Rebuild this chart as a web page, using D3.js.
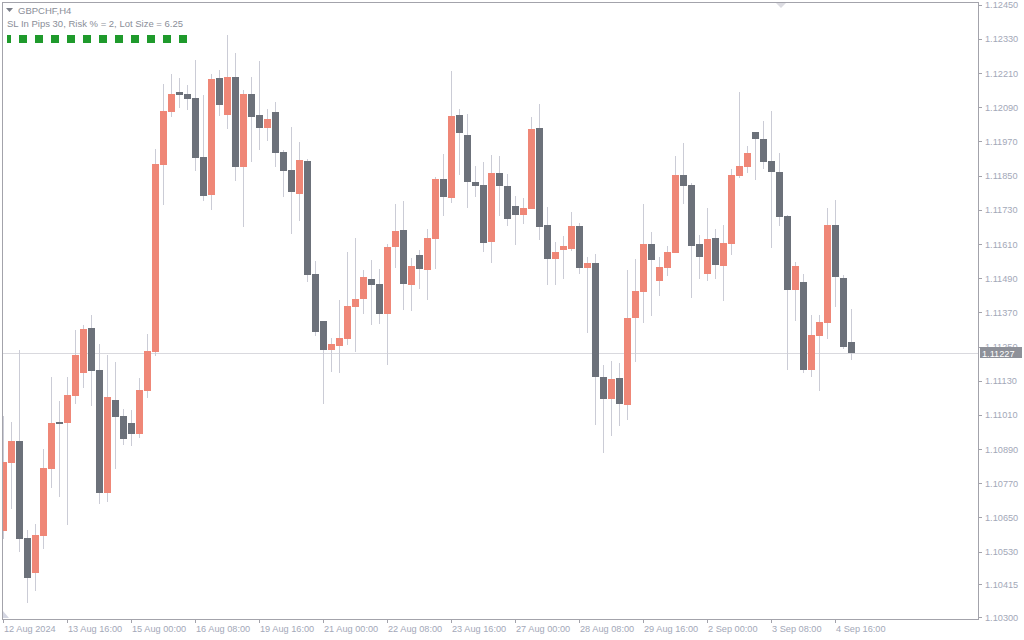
<!DOCTYPE html>
<html>
<head>
<meta charset="utf-8">
<script src="https://cdn.jsdelivr.net/npm/d3@7/dist/d3.min.js"></script>
<style>
  body { margin: 0; background: #ffffff; }
  svg { display: block; }
  text { font-family: "Liberation Sans", Arial, sans-serif; }
</style>
</head>
<body>
<script>
var width = 1024;
var height = 640;

// GBPCHF H4, bars from 12 Aug 2024 08:00
var opens = [1.10604,1.10842,1.10919,1.10578,1.10456,1.10586,1.10821,1.10985,1.10982,1.11077,
  1.11157,1.11315,1.11168,1.10736,1.11063,1.11006,1.10982,1.10943,1.11094,1.11231,
  1.11887,1.12073,1.12144,1.12137,1.12123,1.11915,1.11782,1.12193,1.12063,1.12196,
  1.11880,1.12137,1.12063,1.12017,1.12073,1.11933,1.11870,1.11786,1.11901,1.11505,
  1.11340,1.11238,1.11252,1.11277,1.11389,1.11417,1.11487,1.11470,1.11364,1.11600,
  1.11659,1.11466,1.11571,1.11519,1.11628,1.11838,1.11772,1.12063,1.11993,1.11828,
  1.11817,1.11617,1.11859,1.11814,1.11743,1.11712,1.11733,1.12017,1.11677,1.11557,
  1.11589,1.11593,1.11673,1.11526,1.11543,1.11143,1.11066,1.11140,1.11045,1.11350,
  1.11442,1.11610,1.11480,1.11526,1.11578,1.11852,1.11817,1.11610,1.11505,1.11631,
  1.11533,1.11610,1.11849,1.11880,1.12003,1.11979,1.11901,1.11863,1.11708,1.11449,
  1.11477,1.11168,1.11287,1.11333,1.11677,1.11491,1.11266];
var highs = [1.11006,1.10985,1.11238,1.10606,1.10627,1.10891,1.11143,1.11059,1.11143,1.11308,
  1.11327,1.11361,1.11259,1.11220,1.11196,1.11031,1.11027,1.11140,1.11294,1.11944,
  1.12172,1.12207,1.12193,1.12168,1.12256,1.12133,1.12207,1.12221,1.12344,1.12280,
  1.12151,1.12196,1.12252,1.12084,1.12108,1.11940,1.12021,1.11968,1.11908,1.11550,
  1.11340,1.11280,1.11414,1.11582,1.11631,1.11519,1.11554,1.11522,1.11610,1.11750,
  1.11761,1.11561,1.11589,1.11663,1.11845,1.11926,1.12217,1.12084,1.12066,1.11884,
  1.11898,1.11922,1.11919,1.11856,1.11779,1.11772,1.12056,1.12101,1.11740,1.11617,
  1.11638,1.11722,1.11684,1.11564,1.11575,1.11185,1.11201,1.11192,1.11519,1.11557,
  1.11750,1.11652,1.11564,1.11603,1.11919,1.11965,1.11824,1.11642,1.11736,1.11663,
  1.11677,1.11873,1.12144,1.11954,1.12003,1.12042,1.12077,1.11929,1.11712,1.11547,
  1.11505,1.11361,1.11361,1.11736,1.11765,1.11501,1.11382];
var lows = [1.10575,1.10681,1.10530,1.10351,1.10393,1.10541,1.10755,1.10723,1.10625,1.11048,
  1.11105,1.11041,1.10697,1.10705,1.10821,1.10905,1.10901,1.10929,1.11070,1.11217,
  1.11747,1.12056,1.12087,1.12080,1.11866,1.11761,1.11729,1.12059,1.12014,1.11831,
  1.11670,1.11898,1.11940,1.11972,1.11880,1.11775,1.11645,1.11691,1.11477,1.11287,
  1.11048,1.11161,1.11157,1.11256,1.11231,1.11364,1.11326,1.11329,1.11185,1.11526,
  1.11378,1.11375,1.11452,1.11414,1.11522,1.11708,1.11754,1.11852,1.11736,1.11775,
  1.11582,1.11543,1.11708,1.11673,1.11607,1.11680,1.11733,1.11624,1.11466,1.11466,
  1.11487,1.11586,1.11505,1.11298,1.10975,1.10876,1.10936,1.10971,1.10992,1.11196,
  1.11333,1.11357,1.11428,1.11498,1.11578,1.11750,1.11421,1.11487,1.11480,1.11487,
  1.11410,1.11571,1.11842,1.11859,1.11835,1.11873,1.11596,1.11673,1.11168,1.11340,
  1.11157,1.11143,1.11094,1.11277,1.11389,1.11242,1.11203];
var closes = [1.10845,1.10919,1.10576,1.10439,1.10589,1.10824,1.10982,1.10978,1.11080,1.11220,
  1.11312,1.11164,1.10736,1.11073,1.11003,1.10926,1.10943,1.11098,1.11235,1.11891,
  1.12077,1.12137,1.12133,1.12119,1.11912,1.11779,1.12189,1.12098,1.12196,1.11880,
  1.12137,1.12056,1.12017,1.12049,1.11929,1.11866,1.11793,1.11905,1.11501,1.11301,
  1.11238,1.11259,1.11280,1.11392,1.11417,1.11494,1.11466,1.11364,1.11600,1.11656,
  1.11470,1.11533,1.11522,1.11631,1.11838,1.11775,1.12059,1.12000,1.11828,1.11814,
  1.11614,1.11859,1.11814,1.11698,1.11712,1.11736,1.12014,1.11670,1.11557,1.11582,
  1.11603,1.11673,1.11526,1.11543,1.11143,1.11066,1.11136,1.11048,1.11350,1.11445,
  1.11610,1.11554,1.11529,1.11582,1.11852,1.11814,1.11603,1.11564,1.11628,1.11536,
  1.11614,1.11852,1.11884,1.11929,1.11979,1.11898,1.11863,1.11705,1.11449,1.11533,
  1.11168,1.11291,1.11336,1.11677,1.11494,1.11249,1.11227];

var priceTicks = [1.12450,1.12330,1.12210,1.12090,1.11970,1.11850,1.11730,1.11610,1.11490,
  1.11370,1.11250,1.11130,1.11010,1.10890,1.10770,1.10650,1.10530,1.10415,1.10300];
var timeLabels = ["12 Aug 2024","13 Aug 16:00","15 Aug 00:00","16 Aug 08:00","19 Aug 16:00",
  "21 Aug 00:00","22 Aug 08:00","23 Aug 16:00","27 Aug 00:00","28 Aug 08:00",
  "29 Aug 16:00","2 Sep 00:00","3 Sep 08:00","4 Sep 16:00"];
var timeLabelBars = [0,8,16,24,32,40,48,56,64,72,80,88,96,104];
var lastPrice = 1.11227;
var title = "GBPCHF,H4";
var infoLine = "SL In Pips 30, Risk % = 2, Lot Size = 6.25";
var signalCount = 12;

var bullColor = "#ef8777";
var bearColor = "#6c717a";
var wickColor = "#cbccd6";
var axisColor = "#a3a3ab";
var labelColor = "#a3a8b8";

// plot frame (avoid "top", it is window.top)
var plotL = 2, plotR = 978, plotT = 2, plotB = 619;

var svg = d3.select("body").append("svg")
  .attr("width", width)
  .attr("height", height);

svg.append("rect").attr("width", width).attr("height", height).attr("fill", "#ffffff");

var x = d3.scaleLinear().domain([0, opens.length - 1]).range([3, 3 + 8 * (opens.length - 1)]);
var y = d3.scaleLinear().domain([1.10300, 1.12450]).range([617.2, 4.7]);

svg.append("clipPath").attr("id", "plot")
  .append("rect")
  .attr("x", plotL + 1).attr("y", plotT + 1)
  .attr("width", plotR - plotL - 1).attr("height", plotB - plotT - 1);

var plot = svg.append("g").attr("clip-path", "url(#plot)");

// last price line
plot.append("line")
  .attr("x1", plotL).attr("x2", plotR)
  .attr("y1", Math.round(y(lastPrice)) + 0.5).attr("y2", Math.round(y(lastPrice)) + 0.5)
  .attr("stroke", "#d9d9de");

var bars = d3.range(opens.length);

plot.selectAll("rect.wick")
  .data(bars)
  .enter()
  .append("rect")
  .attr("class", "wick")
  .attr("x", function (i) { return x(i); })
  .attr("width", 1)
  .attr("y", function (i) { return Math.round(y(highs[i])); })
  .attr("height", function (i) { return Math.round(y(lows[i])) - Math.round(y(highs[i])); })
  .attr("fill", wickColor);

plot.selectAll("rect.body")
  .data(bars)
  .enter()
  .append("rect")
  .attr("class", "body")
  .attr("x", function (i) { return x(i) - 3; })
  .attr("width", 7)
  .attr("y", function (i) { return Math.round(y(Math.max(opens[i], closes[i]))); })
  .attr("height", function (i) {
    var h = Math.round(y(Math.min(opens[i], closes[i]))) - Math.round(y(Math.max(opens[i], closes[i])));
    return Math.max(h, 1);
  })
  .attr("fill", function (i) { return closes[i] >= opens[i] ? bullColor : bearColor; });

// frame
svg.append("rect")
  .attr("x", plotL + 0.5).attr("y", plotT + 0.5)
  .attr("width", plotR - plotL).attr("height", plotB - plotT)
  .attr("fill", "none")
  .attr("stroke", axisColor);

// price axis
var pt = svg.append("g");
pt.selectAll("line")
  .data(priceTicks)
  .enter()
  .append("line")
  .attr("x1", plotR).attr("x2", plotR + 4)
  .attr("y1", function (d) { return Math.round(y(d)) + 0.5; })
  .attr("y2", function (d) { return Math.round(y(d)) + 0.5; })
  .attr("stroke", axisColor);
pt.selectAll("text")
  .data(priceTicks)
  .enter()
  .append("text")
  .attr("x", plotR + 7)
  .attr("y", function (d) { return y(d) + 3.5; })
  .attr("font-size", "9.2px")
  .attr("fill", labelColor)
  .text(function (d) { return d.toFixed(5); });

// current price box
var py = Math.round(y(lastPrice));
svg.append("rect")
  .attr("x", plotR + 2).attr("y", py - 6)
  .attr("width", 42).attr("height", 11)
  .attr("fill", "#8e9199");
svg.append("text")
  .attr("x", plotR + 4).attr("y", py + 3.5)
  .attr("font-size", "9.2px")
  .attr("fill", "#ffffff")
  .text(lastPrice.toFixed(5));

// time axis
var tt = svg.append("g");
tt.selectAll("line")
  .data(timeLabelBars)
  .enter()
  .append("line")
  .attr("x1", function (d) { return x(d) + 0.5; })
  .attr("x2", function (d) { return x(d) + 0.5; })
  .attr("y1", plotB).attr("y2", plotB + 4)
  .attr("stroke", axisColor);
tt.selectAll("text")
  .data(timeLabelBars)
  .enter()
  .append("text")
  .attr("x", function (d) { return x(d) + 1; })
  .attr("y", 632)
  .attr("font-size", "9.2px")
  .attr("fill", labelColor)
  .text(function (d, i) { return timeLabels[i]; });

// chart shift marker
svg.append("path")
  .attr("d", "M776,3 L786,3 L781,8 Z")
  .attr("fill", "#dcdce2");
svg.append("path")
  .attr("d", "M3,611 L3,618 L9,618 Z")
  .attr("fill", "#d4d6e2");

// header
svg.append("path")
  .attr("d", "M6,8 L13,8 L9.5,12 Z")
  .attr("fill", "#7a7e88");
svg.append("text")
  .attr("x", 18).attr("y", 13.5)
  .attr("font-size", "9.5px")
  .attr("fill", "#8a8e98")
  .text(title);
svg.append("text")
  .attr("x", 7).attr("y", 26.5)
  .attr("font-size", "9.5px")
  .attr("fill", "#8a8e98")
  .text(infoLine);

svg.selectAll("rect.sig")
  .data(d3.range(signalCount))
  .enter()
  .append("rect")
  .attr("class", "sig")
  .attr("x", function (i) { return i == 0 ? 7 : 3 + 16 * i; })
  .attr("y", 35)
  .attr("width", function (i) { return i == 0 ? 4 : 8; })
  .attr("height", 8)
  .attr("fill", "#1f9a2c");
</script>
</body>
</html>
